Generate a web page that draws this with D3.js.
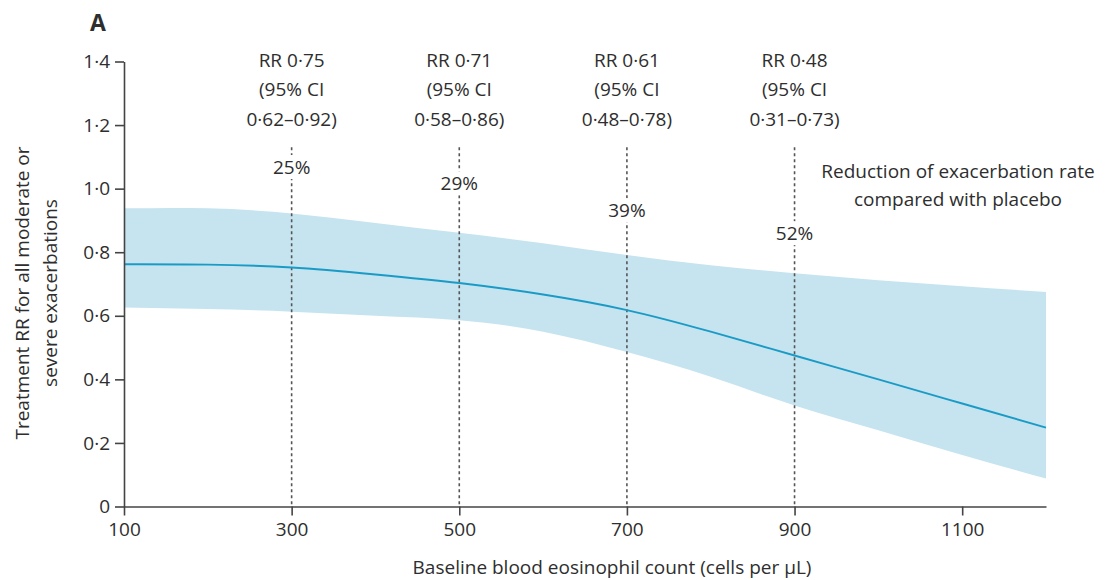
<!DOCTYPE html>
<html><head><meta charset="utf-8">
<script src="https://cdn.jsdelivr.net/npm/d3@7"></script>
<style>
body{margin:0;background:#fff;}
text{font-family:"Open Sans","Noto Sans",sans-serif;fill:#2e2e2e;}
</style></head>
<body><svg id="chart" width="1107" height="580"></svg>
<script>
// ---- data ----
const eosinophils = [100,200,300,400,500,600,700,800,900,1000,1100,1200];
const rrEstimate  = [0.762,0.761,0.752,0.730,0.703,0.667,0.618,0.550,0.475,0.400,0.324,0.248];
const rrUpper     = [0.938,0.938,0.922,0.892,0.861,0.828,0.791,0.759,0.734,0.712,0.693,0.675];
const rrLower     = [0.626,0.621,0.613,0.600,0.586,0.550,0.486,0.408,0.318,0.240,0.162,0.088];
const markerCounts = [300,500,700,900];
const markerRR  = ["RR 0·75","RR 0·71","RR 0·61","RR 0·48"];
const markerCI  = ["0·62–0·92)","0·58–0·86)","0·48–0·78)","0·31–0·73)"];
const markerPct = ["25%","29%","39%","52%"];
const xTicks = [100,300,500,700,900,1100];
const yTicks = [0,0.2,0.4,0.6,0.8,1.0,1.2,1.4];

// ---- layout ----
const L = 124, R = 1046, T = 61.5, B = 506.5;
const FS = "19px";
const FF = '"Open Sans","Noto Sans",sans-serif';
const TXT = "#2e2e2e";
const pctLabelY = [1.068,1.017,0.932,0.860]; // label placement in y units
const svg = d3.select("#chart");
const x = d3.scaleLinear().domain([100,1200]).range([L,R]);
const y = d3.scaleLinear().domain([0,1.4]).range([B,T]);
const fmt = v => v===0 ? "0" : d3.format(".1f")(v).replace(".","·");

const rows = eosinophils.map((e,i)=>({e, m:rrEstimate[i], lo:rrLower[i], hi:rrUpper[i]}));

// band
svg.append("path").datum(rows)
  .attr("fill","#c5e4ef")
  .attr("d", d3.area().x(d=>x(d.e)).y0(d=>y(d.lo)).y1(d=>y(d.hi)).curve(d3.curveNatural));

// dashed reference lines
markerCounts.forEach((c,i)=>{
  svg.append("line").attr("x1",x(c)).attr("x2",x(c)).attr("y1",y(1.13)).attr("y2",B)
    .attr("stroke","#555").attr("stroke-width",1.6).attr("stroke-dasharray","3,3");
});

// estimate line
svg.append("path").datum(rows)
  .attr("fill","none").attr("stroke","#1a9bc6").attr("stroke-width",1.9)
  .attr("d", d3.line().x(d=>x(d.e)).y(d=>y(d.m)).curve(d3.curveNatural));

// axes
const yAxis = svg.append("g").attr("transform",`translate(${L},0)`)
  .call(d3.axisLeft(y).tickValues(yTicks).tickFormat(fmt).tickSize(9).tickSizeOuter(0).tickPadding(5));
const xAxis = svg.append("g").attr("transform",`translate(0,${B})`)
  .call(d3.axisBottom(x).tickValues(xTicks).tickFormat(d=>d).tickSize(9).tickSizeOuter(0).tickPadding(7));
[yAxis,xAxis].forEach(g=>{
  g.selectAll("path,line").attr("stroke","#444").attr("stroke-width",1.6);
  g.selectAll("text").style("font-size",FS).attr("fill",TXT).style("font-family",FF);
});

// percent labels (with white background)
markerCounts.forEach((c,i)=>{
  const cy = y(pctLabelY[i]);
  svg.append("rect").attr("x",x(c)-24).attr("y",cy-12).attr("width",48).attr("height",24).attr("fill","#fff");
  svg.append("text").attr("x",x(c)).attr("y",cy).attr("dy","0.35em").attr("text-anchor","middle")
    .style("font-size",FS).text(markerPct[i]);
});

// RR annotations
markerCounts.forEach((c,i)=>{
  const g = svg.append("g").attr("text-anchor","middle").style("font-size",FS);
  [markerRR[i],"(95% CI",markerCI[i]].forEach((t,j)=>{
    g.append("text").attr("x",x(c)).attr("y",60+j*29.7).attr("dy","0.35em").text(t);
  });
});

svg.append("text").attr("x",958).attr("y",171).attr("dy","0.35em").attr("text-anchor","middle")
  .style("font-size",FS).text("Reduction of exacerbation rate");
svg.append("text").attr("x",958).attr("y",199).attr("dy","0.35em").attr("text-anchor","middle")
  .style("font-size",FS).text("compared with placebo");

// titles
svg.append("text").attr("x",98).attr("y",23).attr("dy","0.35em").attr("text-anchor","middle")
  .style("font-size","23px").style("font-weight","bold").attr("fill","#222").text("A");
svg.append("text").attr("x",612).attr("y",567).attr("dy","0.35em").attr("text-anchor","middle")
  .style("font-size",FS).text("Baseline blood eosinophil count (cells per µL)");
const yt = svg.append("text").attr("transform","translate(22,293) rotate(-90)").attr("text-anchor","middle")
  .style("font-size",FS);
yt.append("tspan").attr("x",0).attr("dy","0.35em").text("Treatment RR for all moderate or");
yt.append("tspan").attr("x",0).attr("dy","1.47em").text("severe exacerbations");
</script></body></html>
